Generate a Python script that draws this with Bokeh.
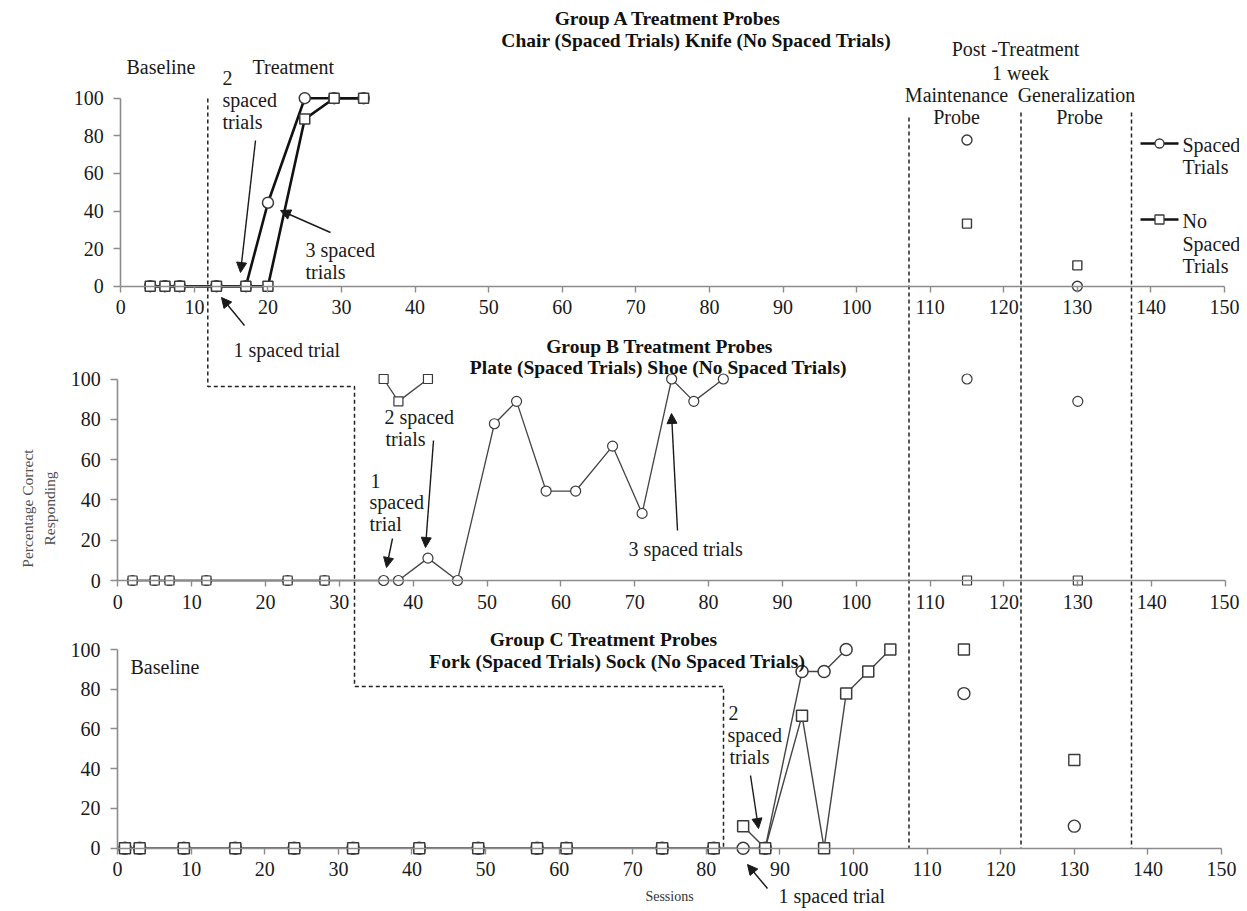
import numpy as np
from bokeh.plotting import figure
from bokeh.models import Range1d, LinearAxis, FixedTicker, Arrow, NormalHead, ColumnDataSource
from bokeh.embed import file_html
from bokeh.resources import INLINE
from bokeh.core.properties import value

nan = float("nan")

# ---------------- data ----------------
x_tick_values = [0, 10, 20, 30, 40, 50, 60, 70, 80, 90, 100, 110, 120, 130, 140, 150]
y_tick_values = [0, 20, 40, 60, 80, 100]
post_sessions = [115, 130]

# Group A: Chair (spaced trials) / Knife (no spaced trials)
a_sessions = [4, 6, 8, 13, 17, 20, 25, 29, 33]
a_spaced = [0, 0, 0, 0, 0, 44.4, 100, 100, 100]
a_nospaced = [0, 0, 0, 0, 0, 0, 88.9, 100, 100]
a_post_spaced = [77.8, 0]
a_post_nospaced = [33.3, 11.1]

# Group B: Plate (spaced trials) / Shoe (no spaced trials)
b_spaced_sessions = [2, 5, 7, 12, 23, 28, 36, 38, 42, 46, 51, 54, 58, 62, 67, 71, 75, 78, 82]
b_spaced = [0, 0, 0, 0, 0, 0, 0, 0, 11.1, 0, 77.8, 88.9, 44.4, 44.4, 66.7, 33.3, 100, 88.9, 100]
b_nospaced_sessions = [2, 5, 7, 12, 23, 28, nan, 36, 38, 42]
b_nospaced = [0, 0, 0, 0, 0, 0, nan, 100, 88.9, 100]
b_post_spaced = [100, 88.9]
b_post_nospaced = [0, 0]

# Group C: Fork (spaced trials) / Sock (no spaced trials)
c_spaced_sessions = [1, 3, 9, 16, 24, 32, 41, 49, 57, 61, 74, 81, 85, 88, 93, 96, 99]
c_spaced = [0, 0, 0, 0, 0, 0, 0, 0, 0, 0, 0, 0, 0, 0, 88.9, 88.9, 100]
c_nospaced_sessions = [1, 3, 9, 16, 24, 32, 41, 49, 57, 61, 74, 81, nan, 85, 88, 93, 96, 99, 102, 105]
c_nospaced = [0, 0, 0, 0, 0, 0, 0, 0, 0, 0, 0, 0, nan, 11.1, 0, 66.7, 0, 77.8, 88.9, 100]
c_post_spaced = [77.8, 11.1]
c_post_nospaced = [100, 44.4]

FONT = value("Liberation Serif")

# ---------------- layout helpers ----------------
W, H = 1239, 911
PX0, PX1, PY0, PY1 = 0, W, 0, H


def rng(p_a, v_a, p_b, v_b, p_start, p_end):
    k = (v_b - v_a) / (p_b - p_a)
    return Range1d(v_a + (p_start - p_a) * k, v_a + (p_end - p_a) * k)


xr = {"default": rng(120.3, 0, 1224, 150, PX0, PX1),
      "B": rng(117.3, 0, 1225, 150, PX0, PX1),
      "C": rng(117.1, 0, 1221, 150, PX0, PX1),
      "px": Range1d(PX0, PX1)}
yr = {"default": rng(285.7, 0, 97.7, 100, PY1, PY0),
      "B": rng(580, 0, 378.5, 100, PY1, PY0),
      "C": rng(847.7, 0, 649, 100, PY1, PY0),
      "py": Range1d(PY1, PY0)}

p = figure(width=W, height=H, output_backend="svg", toolbar_location=None,
           x_range=xr["default"], y_range=yr["default"],
           x_axis_type=None, y_axis_type=None, min_border=0,
           outline_line_color=None, background_fill_color="white")
p.min_border_left = p.min_border_right = p.min_border_top = p.min_border_bottom = 0
p.extra_x_ranges = {k: v for k, v in xr.items() if k != "default"}
p.extra_y_ranges = {k: v for k, v in yr.items() if k != "default"}

AX_COLOR = "#8c8c8c"
TXT = "#1a1a1a"


def add_axes(name):
    xa = LinearAxis(x_range_name=name, y_range_name=name, fixed_location=0, bounds=(0, 150),
                    ticker=FixedTicker(ticks=x_tick_values))
    ya = LinearAxis(x_range_name=name, y_range_name=name, fixed_location=0, bounds=(0, 100),
                    ticker=FixedTicker(ticks=y_tick_values))
    for ax, tout, stand in ((xa, 6, 8), (ya, 7, 10)):
        ax.axis_line_color = AX_COLOR
        ax.axis_line_width = 1.6
        ax.major_tick_line_color = AX_COLOR
        ax.major_tick_line_width = 1.4
        ax.major_tick_out = tout
        ax.major_tick_in = 0
        ax.minor_tick_line_color = None
        ax.major_label_text_font = "Liberation Serif"
        ax.major_label_text_font_size = "20px"
        ax.major_label_text_color = TXT
        ax.major_label_standoff = stand
    p.add_layout(xa, "below")
    p.add_layout(ya, "left")


for nm in ("default", "B", "C"):
    add_axes(nm)

# ---------------- dashed phase lines (pixel space) ----------------
p.line([207.3, 207.3, 354, 354, 723, 723], [98, 386, 386, 686, 686, 848],
       x_range_name="px", y_range_name="py", line_color="#222222", line_width=1.5, line_dash="4 3")
p.multi_line([[908.5, 908.5], [1020.5, 1020.5], [1131, 1131]], [[117, 848], [112, 848], [112, 848]],
             x_range_name="px", y_range_name="py", line_color="#222222", line_width=1.5, line_dash="4 3")


# ---------------- data series ----------------
def markers(name, xs, ys, shape, size, lw):
    p.scatter(np.array(xs, dtype=float), np.array(ys, dtype=float), marker=shape, size=size,
              x_range_name=name, y_range_name=name, fill_color="white",
              line_color="#3a3a3a", line_width=lw)


# Group A (thick black lines)
p.line(a_sessions, a_spaced, line_color="#111111", line_width=2.6)
p.line(a_sessions, a_nospaced, line_color="#111111", line_width=2.6)
markers("default", a_sessions, a_spaced, "circle", 11, 1.5)
markers("default", a_sessions, a_nospaced, "square", 10, 1.5)
markers("default", post_sessions, a_post_spaced, "circle", 10, 1.4)
markers("default", post_sessions, a_post_nospaced, "square", 9, 1.4)

# Group B
p.line(np.array(b_spaced_sessions, dtype=float), np.array(b_spaced, dtype=float),
       x_range_name="B", y_range_name="B", line_color="#444444", line_width=1.3)
p.line(np.array(b_nospaced_sessions, dtype=float), np.array(b_nospaced, dtype=float),
       x_range_name="B", y_range_name="B", line_color="#444444", line_width=1.3)
markers("B", b_spaced_sessions, b_spaced, "circle", 10, 1.2)
markers("B", b_nospaced_sessions, b_nospaced, "square", 9, 1.2)
markers("B", post_sessions, b_post_spaced, "circle", 10, 1.2)
markers("B", post_sessions, b_post_nospaced, "square", 9, 1.2)

# Group C
p.line(np.array(c_spaced_sessions, dtype=float), np.array(c_spaced, dtype=float),
       x_range_name="C", y_range_name="C", line_color="#444444", line_width=1.4)
p.line(np.array(c_nospaced_sessions, dtype=float), np.array(c_nospaced, dtype=float),
       x_range_name="C", y_range_name="C", line_color="#444444", line_width=1.4)
markers("C", c_spaced_sessions, c_spaced, "circle", 12, 1.5)
markers("C", c_nospaced_sessions, c_nospaced, "square", 11, 1.5)
markers("C", post_sessions, c_post_spaced, "circle", 12, 1.4)
markers("C", post_sessions, c_post_nospaced, "square", 11, 1.4)

# ---------------- legend (pixel space) ----------------
p.multi_line([[1140, 1178], [1140, 1178]], [[143, 143], [219, 219]], x_range_name="px", y_range_name="py",
             line_color="#111111", line_width=2.6)
p.scatter([1159], [143], marker="circle", size=9, fill_color="white", line_color="#3a3a3a",
          line_width=1.3, x_range_name="px", y_range_name="py")
p.scatter([1159], [219], marker="square", size=9, fill_color="white", line_color="#3a3a3a",
          line_width=1.3, x_range_name="px", y_range_name="py")


# ---------------- texts (pixel space) ----------------
def texts(items, size="20px", style="normal", align="left", color=TXT, angle=0.0):
    xs = [t[1] for t in items]
    ys = [t[2] for t in items]
    tx = [t[0] for t in items]
    p.text(xs, ys, text=tx, x_range_name="px", y_range_name="py", text_font=FONT,
           text_font_size=size, text_font_style=style, text_align=align,
           text_baseline="middle", text_color=color, angle=angle)


texts([("Group A Treatment Probes", 668, 18),
       ("Chair (Spaced Trials) Knife (No Spaced Trials)", 696, 40),
       ("Group B Treatment Probes", 659, 346),
       ("Plate (Spaced Trials) Shoe (No Spaced Trials)", 658, 367),
       ("Group C Treatment Probes", 603, 639),
       ("Fork (Spaced Trials) Sock (No Spaced Trials)", 617, 661)],
      size="19.5px", style="bold", align="center", color="#111111")

texts([("Post -Treatment", 1015, 48),
       ("1 week", 1020, 72),
       ("Maintenance", 956, 94),
       ("Generalization", 1076, 94),
       ("Probe", 956, 116),
       ("Probe", 1079, 116)], align="center")

texts([("Baseline", 126, 66),
       ("Treatment", 252, 66),
       ("2", 222, 77), ("spaced", 222, 99), ("trials", 222, 121),
       ("3 spaced", 305, 249), ("trials", 305, 271),
       ("1 spaced trial", 233, 349),
       ("2  spaced", 384, 416), ("trials", 385, 438),
       ("1", 370, 480), ("spaced", 369, 501), ("trial", 369, 523),
       ("3 spaced trials", 628, 548),
       ("Baseline", 130, 666),
       ("2", 728, 712), ("spaced", 727, 734), ("trials", 729, 756),
       ("1 spaced trial", 778, 895),
       ("Spaced", 1182, 144), ("Trials", 1182, 166),
       ("No", 1182, 220), ("Spaced", 1182, 243), ("Trials", 1182, 265)])

texts([("Sessions", 669, 896)], size="14px", align="center", color="#333333")
texts([("Percentage Correct", 27, 508), ("Responding", 49, 508)], size="15.5px", align="center",
      color="#505050", angle=np.pi / 2)

# ---------------- arrows (pixel space) ----------------
arrow_src = ColumnDataSource(dict(
    x0=[255, 330, 244, 392, 433, 677, 750, 767],
    y0=[140, 232, 325, 538, 440, 530, 775, 888],
    x1=[240, 280, 221, 386, 425, 671, 758, 747],
    y1=[272, 210, 297, 567, 547, 413, 828, 864]))
p.add_layout(Arrow(source=arrow_src, x_start="x0", y_start="y0", x_end="x1", y_end="y1",
                   x_range_name="px", y_range_name="py", line_color="#1a1a1a", line_width=1.4,
                   end=NormalHead(size=10, fill_color="#1a1a1a", line_color="#1a1a1a")))

open("out.html", "w").write(file_html(p, INLINE))
